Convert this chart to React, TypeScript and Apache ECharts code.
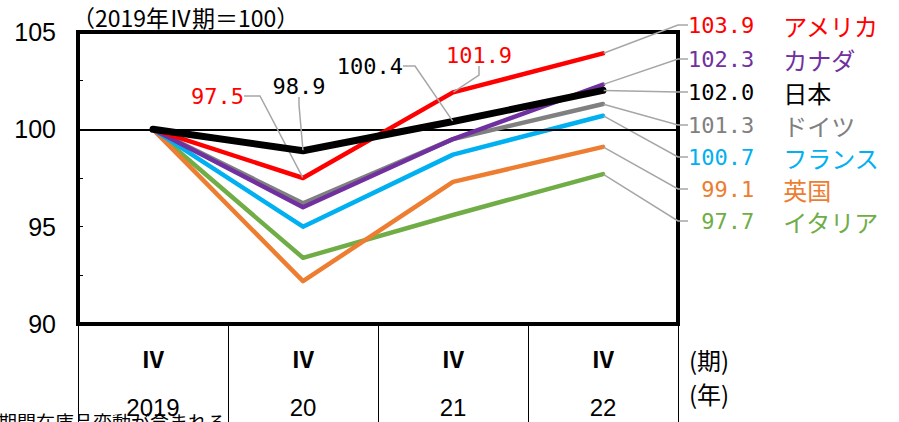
import React, { useEffect, useRef } from "react";
import * as echarts from "echarts";

// ---- data ----
const categories = ["2019", "20", "21", "22"];
const quarterLabel = "Ⅳ";
const yMin = 90;
const yMax = 105;
const yStep = 5;

const japan = [100, 98.9, 100.4, 102.0];
const usa = [100, 97.5, 101.9, 103.9];
const canada = [100, 96.0, 99.5, 102.3];
const germany = [100, 96.2, 99.5, 101.3];
const france = [100, 95.0, 98.7, 100.7];
const uk = [100, 92.2, 97.3, 99.1];
const italy = [100, 93.4, 95.6, 97.7];

const titleText = "（2019年Ⅳ期＝100）";
const periodUnit = "(期)";
const yearUnit = "(年)";
const noteText = "期間在庫品変動が含まれる。";

// drawing order: first = bottom
const countries = [
  { name: "イタリア", values: italy, color: "#70AD47", text: "#70AD47" },
  { name: "英国", values: uk, color: "#ED7D31", text: "#ED7D31" },
  { name: "フランス", values: france, color: "#00B0F0", text: "#00B0F0" },
  { name: "ドイツ", values: germany, color: "#808080", text: "#808080" },
  { name: "カナダ", values: canada, color: "#7030A0", text: "#7030A0" },
  { name: "アメリカ", values: usa, color: "#FF0000", text: "#FF0000" },
  { name: "日本", values: japan, color: "#000000", text: "#000000" },
];

// ---- label placement (layout only) ----
const END_X = 688;
const endLabelY: Record<string, number> = {
  "アメリカ": 25,
  "カナダ": 59,
  "日本": 92,
  "ドイツ": 125,
  "フランス": 157,
  "英国": 189,
  "イタリア": 221,
};
type Spot = { x: number; y: number; align: string; len: number };
const midLabels: Record<string, Record<number, Spot>> = {
  "アメリカ": {
    1: { x: 244, y: 96, align: "right", len: 16 },
    2: { x: 479, y: 55, align: "center", len: 9 },
  },
  "日本": {
    1: { x: 299, y: 86, align: "center", len: 8 },
    2: { x: 403, y: 66, align: "right", len: 12 },
  },
};

const NUM_FONT = "'DejaVu Sans Mono', 'Liberation Mono', monospace";
const JP_FONT = "'Noto Sans CJK JP', 'Noto Sans', sans-serif";
const AXIS_FONT = "'Liberation Sans Narrow', 'Liberation Sans', Arial, sans-serif";

function spotFor(name: string, i: number, last: number): Spot | null {
  if (i === last) return { x: END_X, y: endLabelY[name], align: "left", len: 10 };
  const m = midLabels[name];
  return m && m[i] ? m[i] : null;
}

export default function App() {
  const ref = useRef<HTMLDivElement>(null);
  useEffect(() => {
    document.body.style.margin = "0";
    if (!ref.current) return;
    const chart = echarts.init(ref.current, null, { renderer: "svg" });

    const series = countries.map((c, si) => {
      const last = c.values.length - 1;
      return {
        type: "line",
        name: c.name,
        z: 2 + si,
        silent: true,
        animation: false,
        symbol: "circle",
        symbolSize: 1,
        showSymbol: true,
        itemStyle: { color: c.color },
        lineStyle: {
          color: c.color,
          width: c.name === "日本" ? 7 : 4.5,
          cap: "round",
          join: "round",
        },
        emphasis: { disabled: true },
        label: {
          show: false,
          color: c.text,
          rich: {
            n: { fontFamily: NUM_FONT, fontSize: 22, color: c.text },
            c: { fontFamily: JP_FONT, fontSize: 24, color: c.text, padding: [0, 0, 0, 29] },
          },
        },
        labelLine: {
          show: true,
          lineStyle: { color: "#A6A6A6", width: 1.5 },
        },
        labelLayout: (p: any) => {
          const s = spotFor(c.name, p.dataIndex, last);
          if (!s) return {};
          return { x: s.x, y: s.y, align: s.align, verticalAlign: "middle" };
        },
        data: c.values.map((v, i) => {
          const s = spotFor(c.name, i, last);
          if (!s) return v;
          const txt = v.toFixed(1);
          return {
            value: v,
            label: {
              show: true,
              formatter:
                i === last
                  ? "{n|" + txt.padStart(5, " ") + "}{c|" + c.name + "}"
                  : "{n|" + txt + "}",
            },
            labelLine: { show: true, length2: s.len },
          };
        }),
        markLine:
          si === 0
            ? {
                silent: true,
                symbol: ["none", "none"],
                label: { show: false },
                lineStyle: { color: "#000", width: 2, type: "solid" },
                data: [{ yAxis: 100 }],
              }
            : undefined,
      };
    });

    chart.setOption({
      animation: false,
      grid: {
        left: 78,
        right: 221,
        top: 32,
        bottom: 98,
        show: true,
        borderColor: "#000",
        borderWidth: 4,
        backgroundColor: "transparent",
      },
      xAxis: {
        type: "category",
        data: categories,
        boundaryGap: true,
        axisLine: { show: false },
        axisTick: {
          show: true,
          interval: 0,
          length: 100,
          lineStyle: { color: "#000", width: 1 },
        },
        axisLabel: {
          interval: 0,
          margin: 10,
          formatter: (v: string) => "{q|" + quarterLabel + "}\n{y|" + v + "}",
          rich: {
            q: { fontFamily: JP_FONT, fontSize: 23, fontWeight: "bold", lineHeight: 48, color: "#000" },
            y: { fontFamily: AXIS_FONT, fontSize: 24, lineHeight: 50, color: "#000" },
          },
        },
        splitLine: { show: false },
      },
      yAxis: {
        type: "value",
        min: yMin,
        max: yMax,
        interval: yStep,
        axisLine: { show: false },
        axisTick: { show: true, inside: true, length: 5, lineStyle: { color: "#000", width: 1 } },
        minorTick: { show: true, splitNumber: 2, length: 5, lineStyle: { color: "#000", width: 1 } },
        axisLabel: {
          fontFamily: AXIS_FONT,
          fontSize: 25,
          color: "#000",
          margin: 22,
        },
        splitLine: { show: false },
      },
      graphic: [
        {
          type: "text",
          left: 72,
          top: 5,
          style: { text: titleText, fontFamily: JP_FONT, fontSize: 23, fill: "#000" },
        },
        {
          type: "text",
          left: 689,
          top: 347,
          style: { text: periodUnit, fontFamily: JP_FONT, fontSize: 24, fill: "#000" },
        },
        {
          type: "text",
          left: 689,
          top: 381,
          style: { text: yearUnit, fontFamily: JP_FONT, fontSize: 24, fill: "#000" },
        },
        {
          type: "text",
          left: -2,
          top: 412,
          style: { text: noteText, fontFamily: JP_FONT, fontSize: 19, fill: "#000" },
        },
      ],
      series,
    } as any);

    return () => chart.dispose();
  }, []);

  return <div ref={ref} style={{ width: 899, height: 422 }} />;
}
